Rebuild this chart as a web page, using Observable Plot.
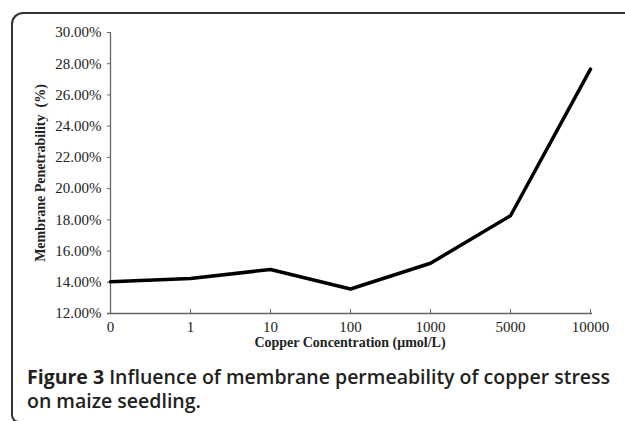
<!DOCTYPE html>
<html>
<head>
<meta charset="utf-8">
<script src="https://cdn.jsdelivr.net/npm/d3@7"></script>
<script src="https://cdn.jsdelivr.net/npm/@observablehq/plot@0.6"></script>
<style>
  html, body { margin: 0; padding: 0; background: #fff; width: 625px; height: 421px; overflow: hidden; }
  #frame { position: absolute; left: 11px; top: 12px; width: 640px; height: 411px;
    border-left: 2px solid #333; border-top: 2px solid #333; border-bottom: 2px solid #333;
    border-top-left-radius: 12px; border-bottom-left-radius: 8px; box-sizing: border-box; }
  #chart { position: absolute; left: 0; top: 0; }
  #caption { position: absolute; left: 27px; top: 365px; width: 592px; font-family: "Open Sans", sans-serif;
    font-size: 19.5px; line-height: 24px; color: #231f20; font-weight: 600; }
  #caption b { font-weight: 700; }
</style>
</head>
<body>
<div id="frame"></div>
<div id="chart"></div>
<div id="caption"><b>Figure 3</b> Influence of membrane permeability of copper stress on maize seedling.</div>
<script>
const concentrations = ["0", "1", "10", "100", "1000", "5000", "10000"];
const permeability = [0.1403, 0.1424, 0.1482, 0.1357, 0.1522, 0.1826, 0.2765];
const yTicks = [0.12, 0.14, 0.16, 0.18, 0.20, 0.22, 0.24, 0.26, 0.28, 0.30];

const data = concentrations.map((c, i) => ({c, v: permeability[i]}));

const plot = Plot.plot({
  width: 625,
  height: 354,
  marginLeft: 107,
  marginRight: 33,
  marginTop: 32,
  marginBottom: 41,
  style: { fontFamily: "'Liberation Serif', 'Times New Roman', serif", fontSize: "15px", color: "#222", background: "transparent" },
  x: { type: "point", domain: concentrations, padding: 0 },
  y: { domain: [0.12, 0.30] },
  marks: [
    Plot.axisX({ ticks: concentrations, tickSize: -4, tickPadding: 12, stroke: "#666", fill: "#222", fontSize: 15, label: null }),
    Plot.axisY({ ticks: yTicks, tickSize: -4, tickPadding: 10, tickFormat: d3.format(".2%"), stroke: "#666", fill: "#222", fontSize: 15, label: null }),
    Plot.ruleX([concentrations[0]], { stroke: "#666", strokeWidth: 1.3 }),
    Plot.ruleY([yTicks[0]], { stroke: "#666", strokeWidth: 1.3 }),
    Plot.line(data, { x: "c", y: "v", stroke: "#000", strokeWidth: 3.5, strokeLinejoin: "miter" }),
    Plot.text(["Copper Concentration (μmol/L)"], { frameAnchor: "bottom", dy: 33, fontWeight: "bold", fontSize: 14, fill: "#222" }),
    Plot.text(["Membrane Penetrability  (%)"], { frameAnchor: "left", textAnchor: "middle", dx: -67, rotate: -90, fontWeight: "bold", fontSize: 14, fill: "#222" })
  ]
});
document.getElementById("chart").appendChild(plot);
</script>
</body>
</html>
